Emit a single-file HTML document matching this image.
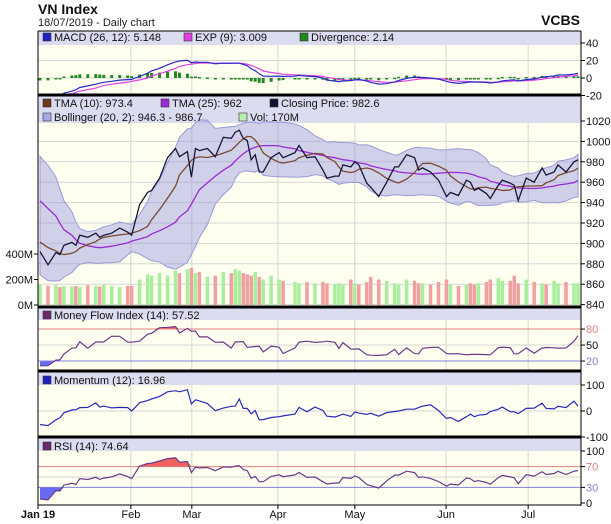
<!DOCTYPE html>
<html><head><meta charset="utf-8">
<style>
html,body{margin:0;padding:0;background:#fff;}
svg{display:block;font-family:"Liberation Sans",sans-serif;}
</style></head>
<body>
<svg id="c" width="611" height="524" viewBox="0 0 611 524" xmlns="http://www.w3.org/2000/svg">
  <text x="38" y="14" font-size="14" font-weight="bold" fill="#111">VN Index</text>
  <text x="38" y="26" font-size="11" fill="#222">18/07/2019 - Daily chart</text>
  <text x="580" y="25" font-size="14" font-weight="bold" fill="#111" text-anchor="end">VCBS</text>
  <g id="layer"></g>
</svg>
<script>
// ---- data ----
const prevClose = [975,980,985,990,992,988,985,980,975,968,960,952,944,935,925,915,905,897,893,895];
const days = [0,2,4,5,6,8,9,10,12,14,15,16,18,20,22,23,25,27,28,30,32,34,35,37,38,39,40,42,44,46,48,49,50,51,52,53,54,55,56,58,60,61,64,65,67,69,71,72,74,75,76,78,79,80,82,83,85,87,89,90,92,94,95,96,98,100,102,103,105,107,108,109,110,112,113,115,116,118,119,120,122,124,126,127,129,130,132,134,135];
const closes = [892,879,891,889,898,901,898,908,906,910,906,908,910,915,911,908,938,950,952,964,984,993,985,990,965,993,991,993,985,1004,1003,1009,1011,1003,1001,982,987,970,970,984,989,984,989,996,984,985,972,964,966,966,977,975,980,977,959,955,946,960,975,975,987,984,972,974,970,962,946,950,947,962,960,952,954,949,944,957,962,959,957,942,964,960,974,967,970,977,970,980,982];
const volumes = [160,150,155,140,150,145,150,140,155,150,145,160,150,140,150,150,200,240,230,250,230,270,250,280,290,250,260,220,230,260,250,280,270,250,240,230,260,220,200,230,200,190,180,170,180,170,180,170,160,170,160,200,170,160,180,220,200,190,170,160,200,190,170,170,160,180,200,160,150,160,170,160,170,180,200,210,190,190,230,170,200,180,170,160,190,170,180,170,170];
const priceTicks = [840,860,880,900,920,940,960,980,1000,1020];
const volTicks = [0,200,400];
const macdTicks = [-20,0,20,40];
const monthLabels = ["Jan 19","Feb","Mar","Apr","May","Jun","Jul"];
const monthDays = [0,22.8,38.1,59.7,79,101.9,122.5];

// ---- scales ----
const X0=38, X1=581;
const xS = d => 40 + d*3.985;
const yPrice = v => 121 + (1020-v)*20.4/20;
const yVol = v => 305 - v*0.1275;
const yMacd = v => 78 - v*0.875;
const yMfi = v => 371.7 - v*0.533;
const yMom = v => 411 - v*0.26;
const yRsi = v => 503 - v*0.52;

const NS="http://www.w3.org/2000/svg";
const L=document.getElementById('layer');
function mk(tag,attrs,parent){const e=document.createElementNS(NS,tag);for(const k in attrs)e.setAttribute(k,attrs[k]);(parent||L).appendChild(e);return e;}
function txt(x,y,s,size,fill,anchor){const e=mk('text',{x:x,y:y,'font-size':size,fill:fill||'#111','text-anchor':anchor||'start'});e.textContent=s;return e;}

// ---- computations ----
const all = prevClose.concat(closes);
const P = prevClose.length, N = closes.length;
function sma(a,n){return a.map((v,i)=>{const s=a.slice(Math.max(0,i-n+1),i+1);return s.reduce((p,c)=>p+c,0)/s.length;});}
function ema(a,n){const k=2/(n+1);let r=[];a.forEach((v,i)=>r.push(i?v*k+r[i-1]*(1-k):v));return r;}
const tma10 = sma(sma(all,4),4).slice(P);
const tma25 = sma(sma(all,9),9).slice(P);
const mid = sma(all,13);
const bUp=[],bLo=[];
for(let i=P;i<all.length;i++){const s=all.slice(i-12,i+1);const m=mid[i];const sd=Math.sqrt(s.reduce((p,c)=>p+(c-m)*(c-m),0)/s.length);bUp.push(m+2*sd);bLo.push(m-2*sd);}
const e8=ema(all,8), e17=ema(all,17);
const macdAll = e8.map((v,i)=>v-e17[i]);
const sigAll = ema(macdAll,6);
const macd = macdAll.slice(P), sig = sigAll.slice(P);
const mom = closes.map((v,i)=>v-all[P+i-8]);
const rsi=[];{let ag=0,al=0;const n=9;for(let i=1;i<all.length;i++){const d=all[i]-all[i-1];ag=(ag*(n-1)+Math.max(d,0))/n;al=(al*(n-1)+Math.max(-d,0))/n;if(i>=P)rsi.push(al===0?100:100-100/(1+ag/al));}}
const prevVol = prevClose.map(()=>170);
const allVol = prevVol.concat(volumes);
const mfi=[];for(let i=P;i<all.length;i++){let pos=0,neg=0;for(let j=i-8;j<=i;j++){const f=all[j]*allVol[j];if(all[j]>all[j-1])pos+=f;else neg+=f;}mfi.push(100*pos/(pos+neg));}

// ---- panels ----
function panel(name,top,legTop,legBot,bottom){
  mk('rect',{x:X0,y:top,width:X1-X0,height:bottom-top,fill:'#fffff0',});
  mk('rect',{x:X0,y:legTop,width:X1-X0,height:legBot-legTop,fill:'#dcdcf0',});
}
panel('macd',31,31,45,95);
panel('price',96,96,123,307);
panel('mfi',308,308,320,371);
panel('momentum',372,372,385,437);
panel('rsi',438,438,451,505);

function hgrid(y){mk('line',{x1:X0,x2:X1,y1:y,y2:y,stroke:'#d6d6d6','stroke-width':1});}
function vgrid(x,y1,y2){mk('line',{x1:x,x2:x,y1:y1,y2:y2,stroke:'#d6d6d6','stroke-width':1});}
priceTicks.forEach(v=>{if(v<1020)hgrid(yPrice(v));});
macdTicks.forEach(v=>{if(v<40)hgrid(yMacd(v));});
[50].forEach(v=>hgrid(yMfi(v)));
[0].forEach(v=>hgrid(yMom(v)));
[50].forEach(v=>hgrid(yRsi(v)));
monthDays.slice(1).forEach(d=>{const x=xS(d);vgrid(x,45,95);vgrid(x,123,307);vgrid(x,320,371);vgrid(x,385,437);vgrid(x,451,505);});

function pathOf(vals,yf){return vals.map((v,i)=>(i?'L':'M')+xS(days[i]).toFixed(1)+','+yf(v).toFixed(1)).join('');}

// ---- MACD ----
const cpm=mk('clipPath',{id:'clip-macd'});mk('rect',{x:X0,y:45,width:X1-X0,height:50},cpm);
const gM=mk('g',{'clip-path':'url(#clip-macd)',});
macd.forEach((v,i)=>{const d=v-sig[i];const y0=yMacd(0),y1=yMacd(d);
  const r=mk('rect',{x:xS(days[i])-1.5,y:Math.min(y0,y1),width:3,height:Math.max(1.5,Math.abs(y1-y0)),fill:'#228822'},gM);
  
  });
const ms=mk('path',{d:pathOf(sig,yMacd),fill:'none',stroke:'#e040e0','stroke-width':1.2},gM);


const ml=mk('path',{d:pathOf(macd,yMacd),fill:'none',stroke:'#2a2ac8','stroke-width':1.2},gM);



// ---- Price ----
const band = pathOf(bUp,yPrice)+bLo.map((v,i)=>i).reverse().map(i=>'L'+xS(days[i]).toFixed(1)+','+yPrice(bLo[i]).toFixed(1)).join('')+'Z';
const bd=mk('path',{d:band,fill:'rgba(150,150,225,0.45)',stroke:'#9a9ad8','stroke-width':1});


closes.forEach((v,i)=>{const up=i===0?true:v>=closes[i-1];const y=yVol(volumes[i]);
  const r=mk('rect',{x:xS(days[i])-1.75,y:y,width:3.5,height:305-y,fill:up?'#a8ee9c':'#f0a0a0'});
  
  });
const t25=mk('path',{d:pathOf(tma25,yPrice),fill:'none',stroke:'#9a2ad8','stroke-width':1.3});


const t10=mk('path',{d:pathOf(tma10,yPrice),fill:'none',stroke:'#7a4a30','stroke-width':1.3});


const cl=mk('path',{d:pathOf(closes,yPrice),fill:'none',stroke:'#16163a','stroke-width':1.3});



// ---- oscillators with fills ----
function osc(vals,yf,hi,lo,name,top,bot){
  const cid='clip-'+name;
  const cp=mk('clipPath',{id:cid});mk('rect',{x:X0,y:top,width:X1-X0,height:bot-top},cp);
  const g=mk('g',{'clip-path':'url(#'+cid+')'});
  
  
  if(hi!==null){
    const pts=vals.map((v,i)=>xS(days[i]).toFixed(1)+','+yf(Math.max(v,hi)).toFixed(1)).join(' L');
    mk('path',{d:'M'+xS(days[0])+','+yf(hi)+' L'+pts+' L'+xS(days[N-1])+','+yf(hi)+'Z',fill:'#f06060'},g);
    const pts2=vals.map((v,i)=>xS(days[i]).toFixed(1)+','+yf(Math.min(v,lo)).toFixed(1)).join(' L');
    mk('path',{d:'M'+xS(days[0])+','+yf(lo)+' L'+pts2+' L'+xS(days[N-1])+','+yf(lo)+'Z',fill:'#6a6af0'},g);
    mk('line',{x1:X0,x2:X1,y1:yf(hi),y2:yf(hi),stroke:'#e08080','stroke-width':1},g);
    mk('line',{x1:X0,x2:X1,y1:yf(lo),y2:yf(lo),stroke:'#8080d8','stroke-width':1},g);
  }
  mk('path',{d:pathOf(vals,yf),fill:'none',stroke:hi!==null?'#6a3a8a':'#2a2ab8','stroke-width':1.2},g);
}
osc(mfi,yMfi,80,20,'mfi',320,371);
osc(mom,yMom,null,null,'momentum',385,437);
osc(rsi,yRsi,70,30,'rsi',451,505);

// ---- frames ----
[[95,3],[307,3],[371,3],[437,3]].forEach(([y,w])=>mk('line',{x1:X0,x2:X1,y1:y,y2:y,stroke:'#000','stroke-width':w}));
mk('line',{x1:X0,x2:X1,y1:31,y2:31,stroke:'#000','stroke-width':1});
mk('line',{x1:X0,x2:X1,y1:505,y2:505,stroke:'#000','stroke-width':1});
mk('line',{x1:X0,x2:X0,y1:31,y2:506,stroke:'#000','stroke-width':1});
mk('line',{x1:X1,x2:X1,y1:31,y2:506,stroke:'#000','stroke-width':1});

// ---- axes ----
function rtick(y,label,color){mk('line',{x1:X1,x2:X1+4,y1:y,y2:y,stroke:'#000'});const t=txt(X1+5,y+4,label,11,color||'#111');}
macdTicks.forEach(v=>rtick(yMacd(v),String(v)));
priceTicks.forEach(v=>rtick(yPrice(v),String(v)));
[[80,'#e08080'],[50,'#111'],[20,'#8080c8']].forEach(([v,c])=>rtick(yMfi(v),String(v),c));
[100,0,-100].forEach(v=>rtick(yMom(v),String(v)));
[[100,'#111'],[70,'#e08080'],[30,'#8080c8'],[0,'#111']].forEach(([v,c])=>rtick(yRsi(v),String(v),c));
volTicks.forEach(v=>{const y=yVol(v);mk('line',{x1:X0-4,x2:X0,y1:y,y2:y,stroke:'#000'});const t=txt(X0-5,y+4,v+'M',11,'#111','end');});
monthLabels.forEach((m,i)=>{const x=i===0?X0:xS(monthDays[i]);mk('line',{x1:x,x2:x,y1:505,y2:509,stroke:'#000'});const t=txt(x,518,m,11,'#111','middle');if(i===0)t.setAttribute('font-weight','bold');});

// ---- legends ----
function leg(x,y,color,label,name){const g=mk('g',{});mk('rect',{x:x,y:y-8,width:8,height:8,fill:color,stroke:'#333','stroke-width':0.6},g);const t=mk('text',{x:x+11,y:y,'font-size':11,fill:'#111'},g);t.textContent=label;}
leg(43,41,'#2020c0','MACD (26, 12): 5.148','legend-macd');
leg(184,41,'#e040e0','EXP (9): 3.009','legend-exp');
leg(300,41,'#228822','Divergence: 2.14','legend-divergence');
leg(43,107,'#6a3a1a','TMA (10): 973.4','legend-tma10');
leg(161,107,'#9a2ad8','TMA (25): 962','legend-tma25');
leg(270,107,'#101030','Closing Price: 982.6','legend-closing-price');
leg(43,121,'#a8a8e8','Bollinger (20, 2): 946.3 - 986.7','legend-bollinger');
leg(239,121,'#b8f0b0','Vol: 170M','legend-volume');
leg(43,319,'#6a2a6a','Money Flow Index (14): 57.52','legend-mfi');
leg(43,384,'#2020c0','Momentum (12): 16.96','legend-momentum');
leg(43,450,'#6a2a6a','RSI (14): 74.64','legend-rsi');
</script>
</body></html>
